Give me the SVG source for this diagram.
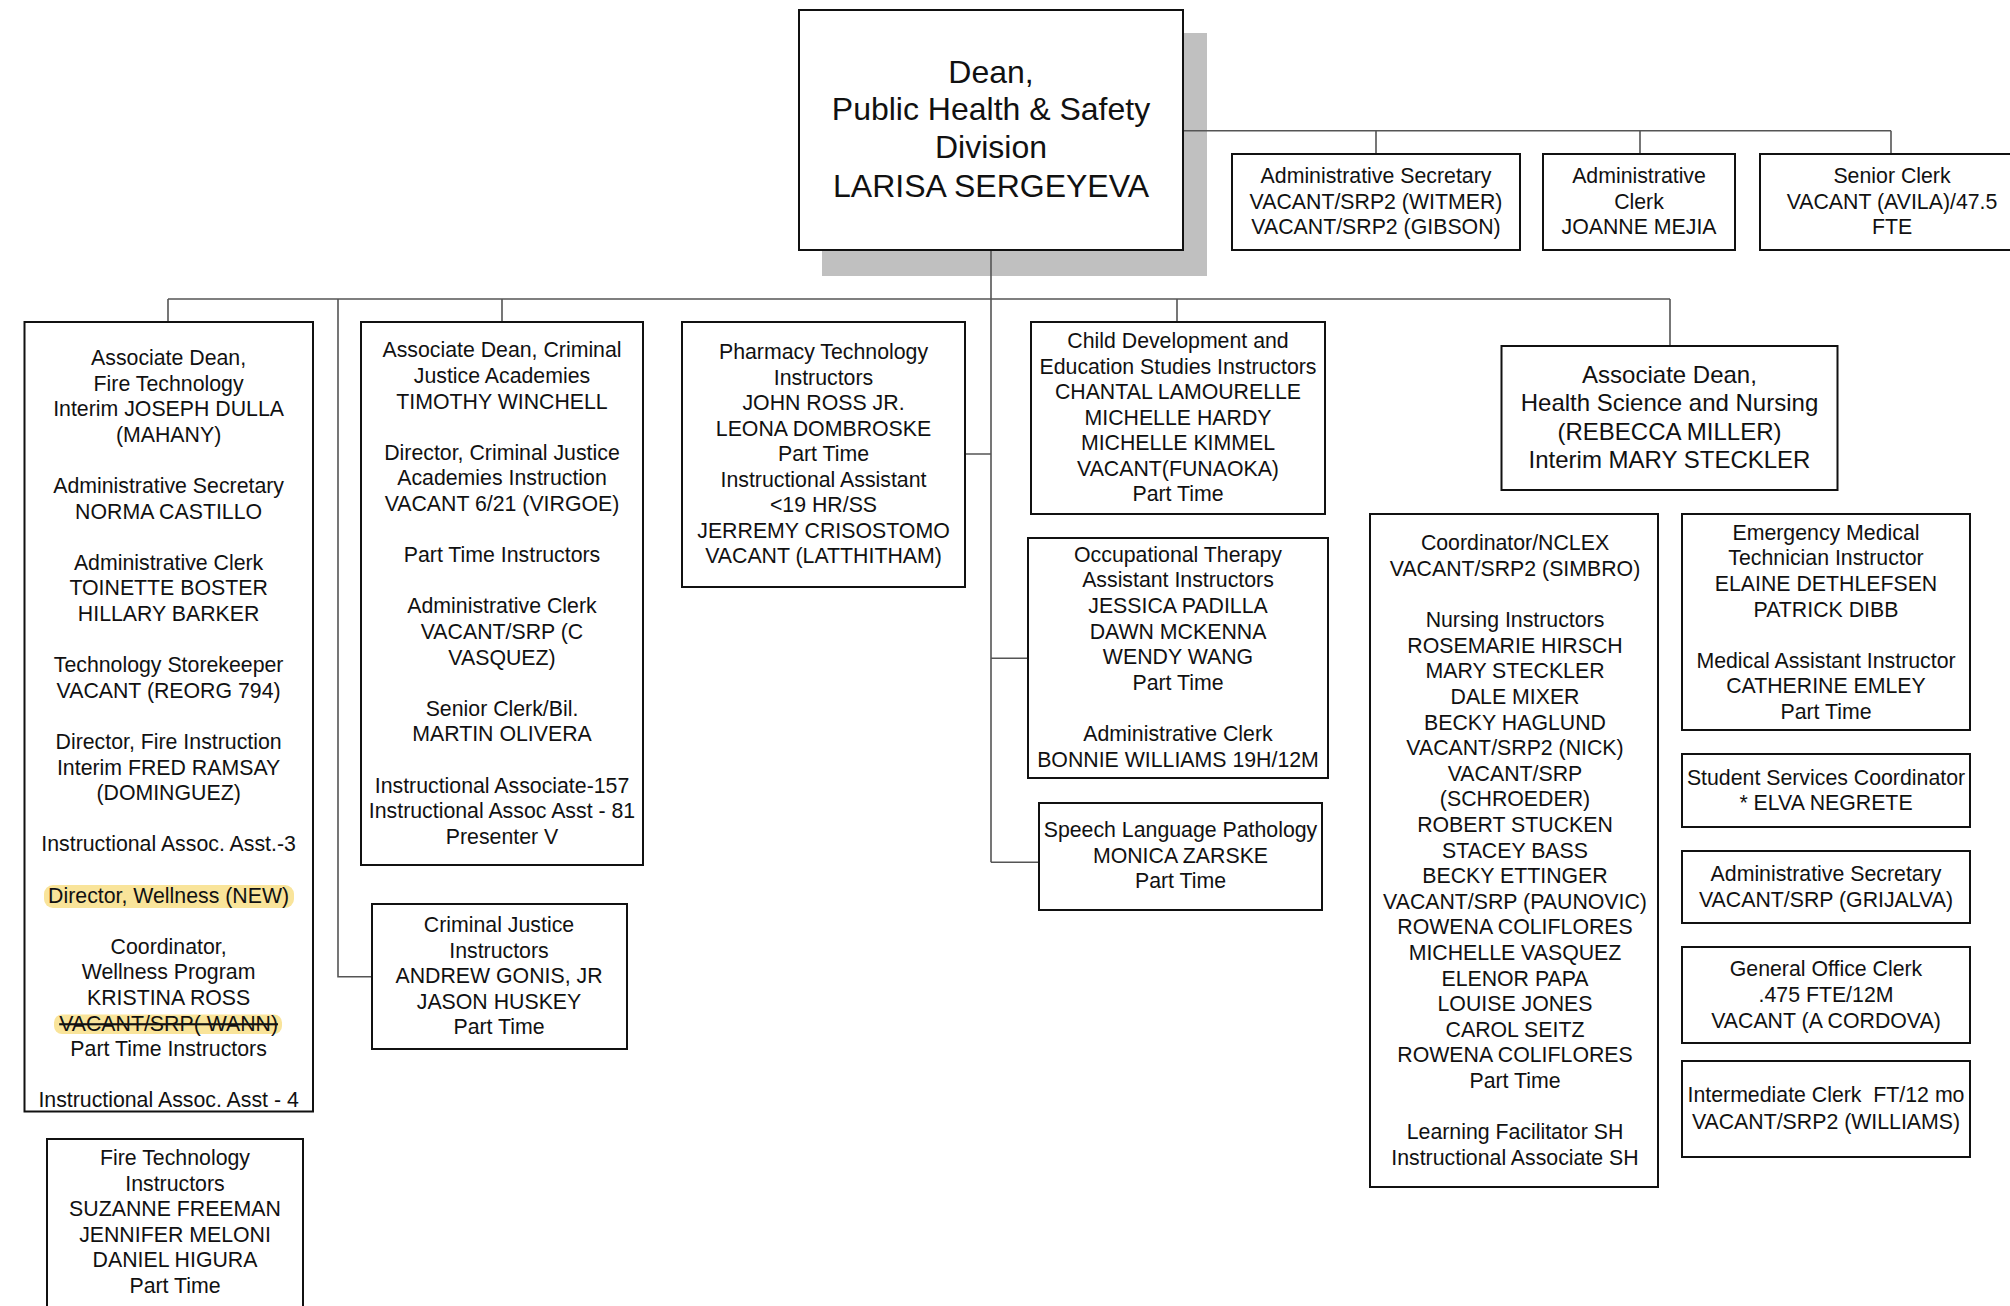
<svg xmlns="http://www.w3.org/2000/svg" width="2010" height="1306" viewBox="0 0 2010 1306">
<style>
.box{fill:#fff;stroke:#111;stroke-width:2}
.conn{fill:none;stroke:#555;stroke-width:1.6}
text{font-family:"Liberation Sans",Arial,sans-serif;font-size:21.3px;fill:#111;text-anchor:middle}
.dean{font-size:32px}
.hsn{font-size:24px}
.hl{fill:#f9e49a}
</style>
<rect width="2010" height="1306" fill="#fff"/>
<rect x="822" y="33" width="385" height="243" fill="#c0c0c0"/>
<g id="connectors">
<path class="conn" d="M1183 130.7H1891M1376 130.7V154M1640 130.7V154M1891 130.7V154"/>
<path class="conn" d="M991 250V862.3M168 299H1670M168 299V322M502 299V322M1177 299V322M1670 299V346M338 299V976.7H372"/>
<path class="conn" d="M991 454H965M991 658.3H1028M991 862.3H1039"/>
</g>
<g id="dean">
<rect class="box" x="799" y="10" width="384" height="240"/>
<text class="dean" x="991" y="82.5">Dean,</text>
<text class="dean" x="991" y="120">Public Health &amp; Safety</text>
<text class="dean" x="991" y="158">Division</text>
<text class="dean" x="991" y="196.5">LARISA SERGEYEVA</text>
</g>
<g id="admin-secretary-top">
<rect class="box" x="1232" y="154" width="288" height="96"/>
<text x="1376" y="183">Administrative Secretary<tspan x="1376" dy="25.5">VACANT/SRP2 (WITMER)</tspan><tspan x="1376" dy="25.5">VACANT/SRP2 (GIBSON)</tspan></text>
</g>
<g id="admin-clerk-top">
<rect class="box" x="1543" y="154" width="192" height="96"/>
<text x="1639" y="183">Administrative<tspan x="1639" dy="25.5">Clerk</tspan><tspan x="1639" dy="25.5">JOANNE MEJIA</tspan></text>
</g>
<g id="senior-clerk-top">
<rect class="box" x="1760" y="154" width="270" height="96"/>
<text x="1892" y="183">Senior Clerk<tspan x="1892" dy="25.5">VACANT (AVILA)/47.5</tspan><tspan x="1892" dy="25.5">FTE</tspan></text>
</g>
<g id="fire-technology">
<rect class="box" x="24.5" y="322" width="288.5" height="789.5"/>
<rect class="hl" x="44" y="885" width="250" height="23" rx="9"/>
<rect class="hl" x="54" y="1014.5" width="228" height="19.5" rx="8"/>
<text x="168.6" y="365">Associate Dean,<tspan x="168.6" dy="25.6">Fire Technology</tspan><tspan x="168.6" dy="25.6">Interim JOSEPH DULLA</tspan><tspan x="168.6" dy="25.6">(MAHANY)</tspan><tspan x="168.6" dy="51.2">Administrative Secretary</tspan><tspan x="168.6" dy="25.6">NORMA CASTILLO</tspan><tspan x="168.6" dy="51.2">Administrative Clerk</tspan><tspan x="168.6" dy="25.6">TOINETTE BOSTER</tspan><tspan x="168.6" dy="25.6">HILLARY BARKER</tspan><tspan x="168.6" dy="51.2">Technology Storekeeper</tspan><tspan x="168.6" dy="25.6">VACANT (REORG 794)</tspan><tspan x="168.6" dy="51.2">Director, Fire Instruction</tspan><tspan x="168.6" dy="25.6">Interim FRED RAMSAY</tspan><tspan x="168.6" dy="25.6">(DOMINGUEZ)</tspan><tspan x="168.6" dy="51.2">Instructional Assoc. Asst.-3</tspan><tspan x="168.6" dy="51.2">Director, Wellness (NEW)</tspan><tspan x="168.6" dy="51.2">Coordinator,</tspan><tspan x="168.6" dy="25.6">Wellness Program</tspan><tspan x="168.6" dy="25.6">KRISTINA ROSS</tspan><tspan x="168.6" dy="25.6" text-decoration="line-through">VACANT/SRP( WANN)</tspan><tspan x="168.6" dy="25.6">Part Time Instructors</tspan><tspan x="168.6" dy="51.2">Instructional Assoc. Asst - 4</tspan></text>
</g>
<g id="fire-technology-instructors">
<rect class="box" x="47" y="1139" width="256" height="180"/>
<text x="175" y="1165">Fire Technology<tspan x="175" dy="25.6">Instructors</tspan><tspan x="175" dy="25.6">SUZANNE FREEMAN</tspan><tspan x="175" dy="25.6">JENNIFER MELONI</tspan><tspan x="175" dy="25.6">DANIEL HIGURA</tspan><tspan x="175" dy="25.6">Part Time</tspan></text>
</g>
<g id="criminal-justice">
<rect class="box" x="361" y="322" width="282" height="543"/>
<text x="502" y="357.4">Associate Dean, Criminal<tspan x="502" dy="25.6">Justice Academies</tspan><tspan x="502" dy="25.6">TIMOTHY WINCHELL</tspan><tspan x="502" dy="51.2">Director, Criminal Justice</tspan><tspan x="502" dy="25.6">Academies Instruction</tspan><tspan x="502" dy="25.6">VACANT 6/21 (VIRGOE)</tspan><tspan x="502" dy="51.2">Part Time Instructors</tspan><tspan x="502" dy="51.2">Administrative Clerk</tspan><tspan x="502" dy="25.6">VACANT/SRP (C</tspan><tspan x="502" dy="25.6">VASQUEZ)</tspan><tspan x="502" dy="51.2">Senior Clerk/Bil.</tspan><tspan x="502" dy="25.6">MARTIN OLIVERA</tspan><tspan x="502" dy="51.2">Instructional Associate-157</tspan><tspan x="502" dy="25.6">Instructional Assoc Asst - 81</tspan><tspan x="502" dy="25.6">Presenter V</tspan></text>
</g>
<g id="criminal-justice-instructors">
<rect class="box" x="372" y="904" width="255" height="145"/>
<text x="499" y="932.4">Criminal Justice<tspan x="499" dy="25.5">Instructors</tspan><tspan x="499" dy="25.5">ANDREW GONIS, JR</tspan><tspan x="499" dy="25.5">JASON HUSKEY</tspan><tspan x="499" dy="25.5">Part Time</tspan></text>
</g>
<g id="pharmacy-technology">
<rect class="box" x="682" y="322" width="283" height="265"/>
<text x="823.5" y="359">Pharmacy Technology<tspan x="823.5" dy="25.5">Instructors</tspan><tspan x="823.5" dy="25.5">JOHN ROSS JR.</tspan><tspan x="823.5" dy="25.5">LEONA DOMBROSKE</tspan><tspan x="823.5" dy="25.5">Part Time</tspan><tspan x="823.5" dy="25.5">Instructional Assistant</tspan><tspan x="823.5" dy="25.5">&lt;19 HR/SS</tspan><tspan x="823.5" dy="25.5">JERREMY CRISOSTOMO</tspan><tspan x="823.5" dy="25.5">VACANT (LATTHITHAM)</tspan></text>
</g>
<g id="child-development">
<rect class="box" x="1031" y="322" width="294" height="192"/>
<text x="1178" y="348.4">Child Development and<tspan x="1178" dy="25.5">Education Studies Instructors</tspan><tspan x="1178" dy="25.5">CHANTAL LAMOURELLE</tspan><tspan x="1178" dy="25.5">MICHELLE HARDY</tspan><tspan x="1178" dy="25.5">MICHELLE KIMMEL</tspan><tspan x="1178" dy="25.5">VACANT(FUNAOKA)</tspan><tspan x="1178" dy="25.5">Part Time</tspan></text>
</g>
<g id="occupational-therapy">
<rect class="box" x="1028" y="538" width="300" height="240"/>
<text x="1178" y="561.7">Occupational Therapy<tspan x="1178" dy="25.6">Assistant Instructors</tspan><tspan x="1178" dy="25.6">JESSICA PADILLA</tspan><tspan x="1178" dy="25.6">DAWN MCKENNA</tspan><tspan x="1178" dy="25.6">WENDY WANG</tspan><tspan x="1178" dy="25.6">Part Time</tspan><tspan x="1178" dy="51.2">Administrative Clerk</tspan><tspan x="1178" dy="25.6">BONNIE WILLIAMS 19H/12M</tspan></text>
</g>
<g id="speech-language">
<rect class="box" x="1039" y="803" width="283" height="107"/>
<text x="1180.5" y="837.4">Speech Language Pathology<tspan x="1180.5" dy="25.5">MONICA ZARSKE</tspan><tspan x="1180.5" dy="25.5">Part Time</tspan></text>
</g>
<g id="health-science-nursing">
<rect class="box" x="1501.5" y="346" width="336" height="144"/>
<text class="hsn" x="1669.5" y="382.6">Associate Dean,<tspan x="1669.5" dy="28.6">Health Science and Nursing</tspan><tspan x="1669.5" dy="28.6">(REBECCA MILLER)</tspan><tspan x="1669.5" dy="28.6">Interim MARY STECKLER</tspan></text>
</g>
<g id="nursing">
<rect class="box" x="1370" y="514" width="288" height="673"/>
<text x="1515" y="550.4">Coordinator/NCLEX<tspan x="1515" dy="25.6">VACANT/SRP2 (SIMBRO)</tspan><tspan x="1515" dy="51.2">Nursing Instructors</tspan><tspan x="1515" dy="25.6">ROSEMARIE HIRSCH</tspan><tspan x="1515" dy="25.6">MARY STECKLER</tspan><tspan x="1515" dy="25.6">DALE MIXER</tspan><tspan x="1515" dy="25.6">BECKY HAGLUND</tspan><tspan x="1515" dy="25.6">VACANT/SRP2 (NICK)</tspan><tspan x="1515" dy="25.6">VACANT/SRP</tspan><tspan x="1515" dy="25.6">(SCHROEDER)</tspan><tspan x="1515" dy="25.6">ROBERT STUCKEN</tspan><tspan x="1515" dy="25.6">STACEY BASS</tspan><tspan x="1515" dy="25.6">BECKY ETTINGER</tspan><tspan x="1515" dy="25.6">VACANT/SRP (PAUNOVIC)</tspan><tspan x="1515" dy="25.6">ROWENA COLIFLORES</tspan><tspan x="1515" dy="25.6">MICHELLE VASQUEZ</tspan><tspan x="1515" dy="25.6">ELENOR PAPA</tspan><tspan x="1515" dy="25.6">LOUISE JONES</tspan><tspan x="1515" dy="25.6">CAROL SEITZ</tspan><tspan x="1515" dy="25.6">ROWENA COLIFLORES</tspan><tspan x="1515" dy="25.6">Part Time</tspan><tspan x="1515" dy="51.2">Learning Facilitator SH</tspan><tspan x="1515" dy="25.6">Instructional Associate SH</tspan></text>
</g>
<g id="emt">
<rect class="box" x="1682" y="514" width="288" height="216"/>
<text x="1826" y="539.7">Emergency Medical<tspan x="1826" dy="25.6">Technician Instructor</tspan><tspan x="1826" dy="25.6">ELAINE DETHLEFSEN</tspan><tspan x="1826" dy="25.6">PATRICK DIBB</tspan><tspan x="1826" dy="51.2">Medical Assistant Instructor</tspan><tspan x="1826" dy="25.6">CATHERINE EMLEY</tspan><tspan x="1826" dy="25.6">Part Time</tspan></text>
</g>
<g id="student-services">
<rect class="box" x="1682" y="754" width="288" height="73"/>
<text x="1826" y="784.7">Student Services Coordinator<tspan x="1826" dy="25.6">* ELVA NEGRETE</tspan></text>
</g>
<g id="admin-secretary-hsn">
<rect class="box" x="1682" y="851" width="288" height="72"/>
<text x="1826" y="880.7">Administrative Secretary<tspan x="1826" dy="26">VACANT/SRP (GRIJALVA)</tspan></text>
</g>
<g id="general-office-clerk">
<rect class="box" x="1682" y="947" width="288" height="96"/>
<text x="1826" y="975.7">General Office Clerk<tspan x="1826" dy="26">.475 FTE/12M</tspan><tspan x="1826" dy="26">VACANT (A CORDOVA)</tspan></text>
</g>
<g id="intermediate-clerk">
<rect class="box" x="1682" y="1061" width="288" height="96"/>
<text x="1826" y="1102.4" style="white-space:pre">Intermediate Clerk  FT/12 mo<tspan x="1826" dy="26.5">VACANT/SRP2 (WILLIAMS)</tspan></text>
</g>
</svg>
